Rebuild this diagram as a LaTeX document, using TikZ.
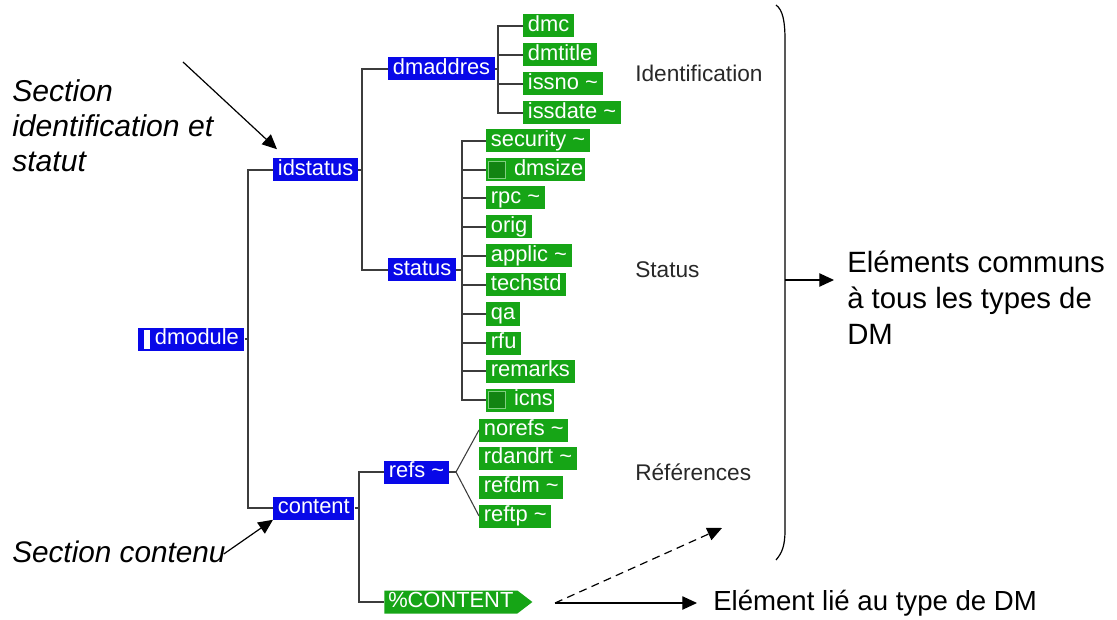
\documentclass[tikz,border=0pt]{standalone}
\usepackage{fontspec}
\setmainfont{Liberation Sans}
\usetikzlibrary{arrows.meta,shapes.symbols}
\definecolor{dmblue}{RGB}{8,8,232}
\definecolor{dmgreen}{RGB}{22,165,22}
\definecolor{linegray}{RGB}{60,60,60}
\definecolor{lbl}{RGB}{40,40,40}
\newcommand{\sqicon}{{\setlength\fboxsep{0pt}\setlength\fboxrule{0.9pt}\fcolorbox{dmgreen!55!white}{dmgreen!80!black}{\rule[-2pt]{0pt}{12pt}\rule{12pt}{0pt}}}\hspace{6pt}}
\newcommand{\baricon}{\textcolor{white}{\rule[-3pt]{4.5pt}{14pt}}\hspace{4pt}}
\begin{document}
\begin{tikzpicture}[x=0.75pt,y=-0.75pt,
  nd/.style={anchor=west, text=white, font=\fontsize{16.4}{18}\selectfont,
    inner xsep=3.5pt, inner ysep=0pt, minimum height=17.25pt, text height=11.8pt, text depth=3.5pt},
  bnode/.style={nd, fill=dmblue},
  gnode/.style={nd, fill=dmgreen},
  ln/.style={draw=linegray, line width=0.8pt},
  arr/.style={-{Triangle[length=11pt,width=10pt]}, line width=0.9pt, draw=black},
  bigtxt/.style={inner sep=0pt, anchor=west, align=left, text=black, font=\fontsize{22}{27}\selectfont},
  midtxt/.style={inner sep=0pt, anchor=west, text=lbl, font=\fontsize{17}{20}\selectfont},
]
\useasboundingbox (0,0) rectangle (1117,620);

% tree nodes
\node[bnode, inner xsep=1.5pt, minimum width=79.5pt] (dmodule) at (138,339) {\baricon dmodule};
\node[bnode] (idstatus) at (273,170) {idstatus};
\node[bnode] (content) at (273,508) {content};
\node[bnode] (dmaddres) at (388,69) {dmaddres};
\node[bnode] (status) at (388,270) {status};
\node[bnode] (refs) at (384,472) {refs \textasciitilde};
\node[gnode, shape=signal, signal to=east, signal pointer angle=75, inner xsep=3pt] (pc) at (384,602) {\%CONTENT};

\node[gnode] (dmc) at (523,26) {dmc};
\node[gnode] (dmtitle) at (523,55) {dmtitle};
\node[gnode] (issno) at (523,84) {issno \textasciitilde};
\node[gnode] (issdate) at (523,113) {issdate \textasciitilde};

\node[gnode] (security) at (486,141) {security \textasciitilde};
\node[gnode, inner xsep=1pt] (dmsize) at (486,170) {\sqicon dmsize\hspace{2pt}};
\node[gnode] (rpc) at (486,198) {rpc \textasciitilde};
\node[gnode] (orig) at (486,227) {orig};
\node[gnode] (applic) at (486,256) {applic \textasciitilde};
\node[gnode] (techstd) at (486,285) {techstd};
\node[gnode] (qa) at (486,314) {qa};
\node[gnode] (rfu) at (486,343) {rfu};
\node[gnode] (remarks) at (486,371) {remarks};
\node[gnode, inner xsep=1pt] (icns) at (486,400) {\sqicon icns\hspace{2pt}};

\node[gnode] (norefs) at (479,430) {norefs \textasciitilde};
\node[gnode] (rdandrt) at (479,458) {rdandrt \textasciitilde};
\node[gnode] (refdm) at (479,487) {refdm \textasciitilde};
\node[gnode] (reftp) at (479,516) {reftp \textasciitilde};

% junction coordinates
\coordinate (j1) at (248,339);
\coordinate (ji) at (362,170);
\coordinate (jc) at (359,508);
\coordinate (jd) at (498,69);
\coordinate (js) at (462,270);
\coordinate (jr) at (456,472);

% connectors
\draw[ln] (dmodule.east) -- (dmodule.east -| j1);
\draw[ln] (idstatus.west) -| (j1) |- (content.west);
\draw[ln] (idstatus.east) -- (idstatus.east -| ji);
\draw[ln] (dmaddres.west) -| (ji) |- (status.west);
\draw[ln] (content.east) -- (content.east -| jc);
\draw[ln] (refs.west) -| (jc) |- (pc.west);
\draw[ln] (dmaddres.east) -- (dmaddres.east -| jd);
\draw[ln] (dmc.west) -| (jd) |- (issdate.west);
\foreach \n in {dmtitle,issno} \draw[ln] (\n.west) -- (\n.west -| jd);
\draw[ln] (status.east) -- (status.east -| js);
\draw[ln] (security.west) -| (js) |- (icns.west);
\foreach \n in {dmsize,rpc,orig,applic,techstd,qa,rfu,remarks} \draw[ln] (\n.west) -- (\n.west -| js);
\draw[ln] (refs.east) -- (jr);
\draw[ln] (norefs.west) -- (jr) -- (reftp.west);

% side labels
\node[midtxt] (lid) at (635,73) {Identification};
\node[midtxt] (lst) at (635,270) {Status};
\node[midtxt] (lref) at (635,472) {Références};

% left annotations
\node[bigtxt, font=\fontsize{22.6}{26.25}\selectfont\itshape] (sis) at (12,126) {Section\\identification et\\statut};
\coordinate (a1) at (183,62);
\draw[arr] (a1) -- ([shift={(4,-9)}]idstatus.north west);
\node[bigtxt, font=\fontsize{22.3}{26.25}\selectfont\itshape] (sc) at (12,552) {Section contenu};
\draw[arr] ([shift={(-2,2)}]sc.east) -- (content.south west);

% brace
\draw[line width=0.9pt] (776,5) .. controls (783,10) and (785,22) .. (785,40) -- (785,530) .. controls (785,546) and (782,553) .. (776,560);
\coordinate (br) at (785,280);
\coordinate (bt) at (834,280);
\draw[arr] (br) -- (bt);
\node[bigtxt] (ec) at (847,298) {Eléments communs\\à tous les types de\\DM};

% bottom arrows
\coordinate (ds) at (555,603);
\coordinate (dt) at (722,528);
\draw[arr, dash pattern=on 6pt off 4pt] (ds) -- (dt);
\node[bigtxt, font=\fontsize{20.7}{24}\selectfont] (el) at (713,603) {Elément lié au type de DM};
\draw[arr] (ds) -- ([xshift=-12]el.west);
\end{tikzpicture}
\end{document}
